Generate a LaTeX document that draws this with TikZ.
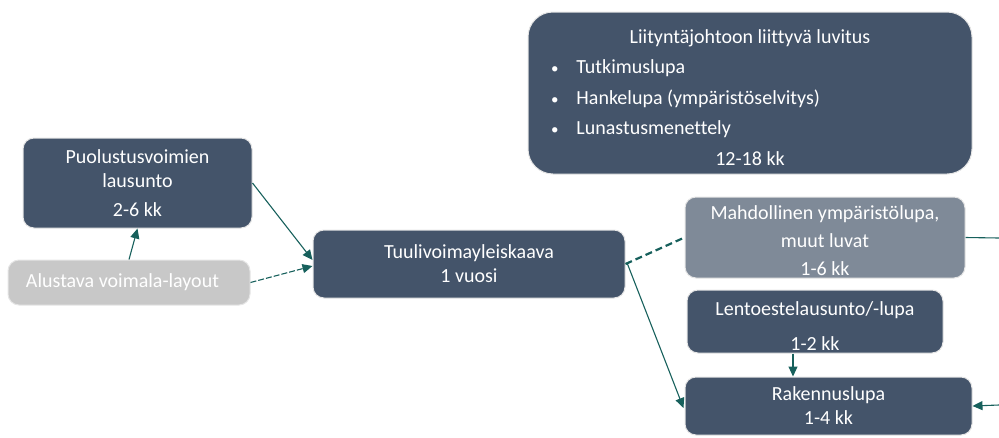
\documentclass[tikz,border=0pt]{standalone}
\usepackage{fontspec}
\setmainfont[Ligatures=NoCommon]{Carlito}
\usetikzlibrary{arrows.meta,positioning,calc}
\definecolor{boxdark}{HTML}{44546A}
\definecolor{boxgrey}{HTML}{7F8A98}
\definecolor{boxlight}{HTML}{C8C8C8}
\definecolor{linkteal}{HTML}{17605C}
\newcommand{\bulletline}[1]{\makebox[400pt][l]{\hspace{1pt}{\fontsize{15}{15}\selectfont\textbullet}\hspace{18pt}#1}}

\begin{document}
\begin{tikzpicture}[x=1pt,y=-1pt,
    stage/.style={draw=black!10, line width=1pt, rounded corners=11pt, fill=boxdark,
      text=white, align=center, inner sep=0pt, font=\fontsize{20}{24}\selectfont},
    link/.style={linkteal, line width=1.1pt, -{Triangle[length=10pt,width=9pt]}}]
    \useasboundingbox (0,0) rectangle (999,437);
    % boxes
    \node[stage, minimum width=444pt, minimum height=162pt, rounded corners=25pt,
      font=\fontsize{20}{30.5}\selectfont] (luvitus) at (750,93)
      {\rule{0pt}{23pt}Liityntäjohtoon liittyvä luvitus\\ \bulletline{Tutkimuslupa}\\
       \bulletline{Hankelupa (ympäristöselvitys)}\\ \bulletline{Lunastusmenettely}\\ 12-18 kk};
    \node[stage, minimum width=229pt, minimum height=90pt] (puolustus) at (137.5,183)
      {Puolustusvoimien\\lausunto\\[5pt]2-6 kk};
    \node[stage, fill=boxlight, minimum width=242pt, minimum height=45pt] (alustava) at (129,282.5)
      {Alustava voimala-layout\hspace*{13pt}};
    \node[stage, minimum width=312pt, minimum height=68pt] (tuuli) at (469,264)
      {Tuulivoimayleiskaava\\1 vuosi};
    \node[stage, fill=boxgrey, minimum width=280pt, minimum height=81pt,
      font=\fontsize{20}{28}\selectfont] (mahd) at (825,237.5)
      {\rule{0pt}{21pt}Mahdollinen ympäristölupa,\\muut luvat\\1-6 kk};
    \node[stage, minimum width=256pt, minimum height=63pt] (lento) at (815,321.5)
      {\rule{0pt}{23pt}Lentoestelausunto/-lupa\\[11pt]1-2 kk};
    \node[stage, minimum width=287pt, minimum height=58pt] (rak) at (828.5,406)
      {Rakennuslupa\\1-4 kk};
    \coordinate (edgeA) at (999,238);
    \coordinate (edgeB) at (999,405);
    % connectors
    \draw[link] (alustava.north) -- (puolustus.south);
    \draw[link] (puolustus.east) -- ($(tuuli.west)+(0,-4)$);
    \draw[link, dash pattern=on 6pt off 2pt] (alustava.east) -- ($(tuuli.west)+(0,2)$);
    \draw[linkteal, line width=2.2pt, dash pattern=on 7pt off 4pt] (tuuli.east) -- (mahd.west);
    \draw[link] ($(tuuli.east)+(2,0)$) -- ($(rak.west)+(-1,2)$);
    \draw[link] ($(lento.south)+(-22,0)$) -- ($(rak.north)+(-35.5,0)$);
    \draw[linkteal, line width=1.1pt] (mahd.east) -- (edgeA);
    \draw[link] (edgeB) -- (rak.east);
\end{tikzpicture}
\end{document}
